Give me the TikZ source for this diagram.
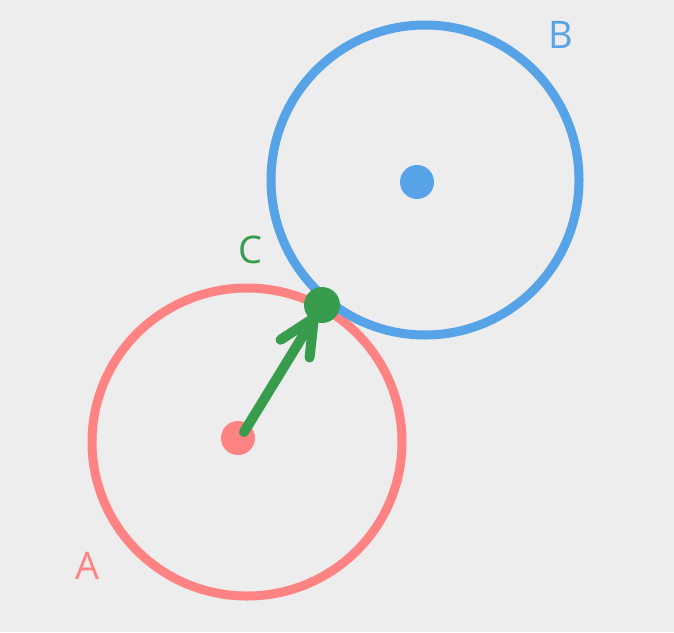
\documentclass[tikz,border=0pt]{standalone}
\usepackage{fontspec}
\setmainfont{Open Sans}
\usetikzlibrary{arrows.meta}
\definecolor{cBack}{HTML}{EDEDED}
\definecolor{cRed}{HTML}{FF8383}
\definecolor{cBlue}{HTML}{56A3E8}
\definecolor{cGreen}{HTML}{379D4D}
\tikzset{
  ring/.style={line width=9pt},
  dot/.style={circle, inner sep=0pt, minimum size=#1},
  lbl/.style={font=\fontsize{38}{40}\selectfont, inner sep=0pt}
}

\begin{document}
\begin{tikzpicture}[x=1pt, y=-1pt]
        \fill[cBack] (0,0) rectangle (674,632);
        \useasboundingbox (0,0) rectangle (674,632);
        % circles
        \draw[ring, cRed]  (247,442) ellipse [x radius=155, y radius=154];
        \draw[ring, cBlue] (425,180) ellipse [x radius=154, y radius=155];
        % centres and contact point
        \node[dot=34pt, fill=cRed]   (ca) at (238,438) {};
        \node[dot=34pt, fill=cBlue]  (cb) at (417,182) {};
        \node[dot=36pt, fill=cGreen] (cc) at (322,305) {};
        \draw[cGreen, line width=10pt, line cap=round,
              -{Straight Barb[length=36pt, width=34pt, line width=10pt, line cap=round]}]
              (ca.center) ++(6,-6) -- ([shift={(-2,3)}]cc.center);
        % labels
        \node[lbl, cRed]   (la) at (88,566) {A};
        \node[lbl, cBlue]  (lb) at (561,35) {B};
        \node[lbl, cGreen] (lc) at (250,250) {C};
      \end{tikzpicture}
\end{document}
